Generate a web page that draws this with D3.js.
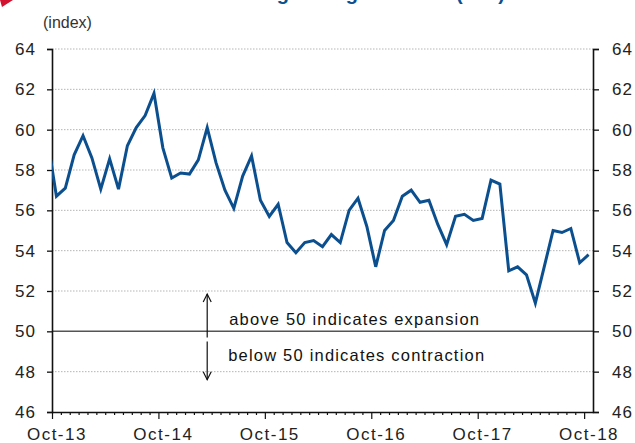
<!DOCTYPE html>
<html>
<head>
<meta charset="utf-8">
<script src="https://cdn.jsdelivr.net/npm/d3@7"></script>
<style>
  body { margin: 0; background: #fff; }
  svg { display: block; }
</style>
</head>
<body>
<div id="chart"></div>
<script>
// data, first value (Sep-13) sits just left of the axis and is clipped
var startMonth = new Date(2013, 8, 1);
var pmi = [59.5, 56.7, 57.1, 58.75, 59.7, 58.6, 57.05, 58.55, 57.05, 59.2, 60.1, 60.7, 61.8,
    59.1, 57.6, 57.85, 57.8, 58.5, 60.1, 58.35, 57.0, 56.1, 57.7, 58.7, 56.5,
    55.7, 56.3, 54.4, 53.9, 54.4, 54.5, 54.2, 54.8, 54.4, 56.0, 56.6, 55.2,
    53.2, 55.0, 55.5, 56.7, 57.0, 56.4, 56.5, 55.3, 54.3, 55.7, 55.8, 55.5,
    55.6, 57.5, 57.3, 53.0, 53.2, 52.8, 51.4, 53.2, 55.0, 54.9, 55.1, 53.4, 53.8];
var xLabels = ["Oct-13", "Oct-14", "Oct-15", "Oct-16", "Oct-17", "Oct-18"];
var yTicks = [46, 48, 50, 52, 54, 56, 58, 60, 62, 64];
var noteAbove = "above 50 indicates expansion";
var noteBelow = "below 50 indicates contraction";

var W = 635, H = 443;
var margin = { top: 49, right: 42, bottom: 31, left: 52 };
var width = W - margin.left - margin.right,
    height = H - margin.top - margin.bottom;

var svg = d3.select("#chart").append("svg")
    .attr("width", W).attr("height", H);

// cropped title strip at the very top (only descenders show)
svg.append("path").attr("d", "M0,0L13,0L2,7Z").attr("fill", "#d2102f");
svg.append("text")
    .attr("x", 505).attr("y", -0.5)
    .attr("text-anchor", "end")
    .style("font-family", "Liberation Sans, Arial, sans-serif")
    .style("font-weight", "bold").style("font-size", "20px")
    .attr("fill", "#0b4f8f")
    .text("Chart 3: Purchasing Managers' Index (PMI)");

svg.append("text")
    .attr("x", 43).attr("y", 28)
    .style("font-family", "Liberation Sans Narrow, Arial Narrow, sans-serif")
    .style("font-size", "16px")
    .attr("fill", "#333")
    .text("(index)");

var g = svg.append("g").attr("transform", "translate(" + margin.left + "," + margin.top + ")");

// month index: 0 = Oct-13 band, points at band centres
var nBands = 61;
var x = d3.scaleLinear().domain([0, nBands]).range([0, width]);
var y = d3.scaleLinear().domain([46, 64]).range([height, 0]);

var data = pmi.map(function (v, i) {
    return { date: d3.timeMonth.offset(startMonth, i), idx: i - 1, value: v };
});

// grid
g.append("g").selectAll("line")
    .data(yTicks.filter(function (d) { return d !== 46 && d !== 50; }))
    .enter().append("line")
    .attr("x1", 0).attr("x2", width)
    .attr("y1", function (d) { return y(d); }).attr("y2", function (d) { return y(d); })
    .attr("stroke", "#b5b5b5").attr("stroke-width", 1)
    .attr("stroke-dasharray", "1.5,1.5");

g.append("line")
    .attr("x1", 0).attr("x2", width)
    .attr("y1", y(50)).attr("y2", y(50))
    .attr("stroke", "#555").attr("stroke-width", 1.5);

// y axes
var fontTicks = "Liberation Sans, Arial, sans-serif";
var yl = g.append("g").call(d3.axisLeft(y).tickValues(yTicks).tickSize(5).tickPadding(11));
var yr = g.append("g").attr("transform", "translate(" + width + ",0)")
    .call(d3.axisRight(y).tickValues(yTicks).tickSize(6).tickPadding(13));
[yl, yr].forEach(function (a) {
    a.select(".domain").attr("stroke", "#111").attr("stroke-width", 1.6);
    a.selectAll(".tick line").attr("stroke", "#111").attr("stroke-width", 1.3);
    a.selectAll("text").style("font-family", fontTicks).style("font-size", "17px")
        .style("letter-spacing", "1px").attr("fill", "#222");
});

// x axis: monthly ticks, longer each October
var xb = g.append("g").attr("transform", "translate(0," + height + ")")
    .call(d3.axisBottom(x).tickValues(d3.range(0, nBands)).tickFormat("").tickSizeOuter(0));
xb.select(".domain").attr("stroke", "#111").attr("stroke-width", 1.6);
xb.selectAll(".tick line")
    .attr("stroke", "#111").attr("stroke-width", 1.2)
    .attr("y2", function (d) { return d % 12 === 0 ? 7 : 3; });

var xl = g.append("g").attr("transform", "translate(0," + height + ")")
    .call(d3.axisBottom(x)
        .tickValues(xLabels.map(function (d, i) { return i * 12 + 0.5; }))
        .tickFormat(function (d, i) { return xLabels[i]; })
        .tickSize(0).tickPadding(16));
xl.select(".domain").remove();
xl.selectAll("text").style("font-family", fontTicks).style("font-size", "17px")
    .style("letter-spacing", "1.5px").attr("fill", "#222");

// line, clipped to the plot area
g.append("clipPath").attr("id", "clip")
    .append("rect").attr("width", width).attr("height", height);

var line = d3.line()
    .x(function (d) { return x(d.idx + 0.5); })
    .y(function (d) { return y(d.value); });

g.append("path").datum(data)
    .attr("clip-path", "url(#clip)")
    .attr("fill", "none")
    .attr("stroke", "#0b4f8f")
    .attr("stroke-width", 3)
    .attr("stroke-linejoin", "miter")
    .attr("d", line);

// annotations
var ax = x(17.5);
function arrow(y0, y1) {
    var dir = y1 < y0 ? 1 : -1;
    g.append("line").attr("x1", ax).attr("x2", ax).attr("y1", y0).attr("y2", y1)
        .attr("stroke", "#111").attr("stroke-width", 1.2);
    g.append("path")
        .attr("d", "M" + (ax - 4) + "," + (y1 + dir * 8) + "L" + ax + "," + y1 + "L" + (ax + 4) + "," + (y1 + dir * 8))
        .attr("fill", "none").attr("stroke", "#111").attr("stroke-width", 1.2);
}
arrow(y(49.7), y(51.85));
arrow(y(49.5), y(47.6));

g.append("text").attr("x", ax + 22).attr("y", y(50.33))
    .style("font-family", fontTicks).style("font-size", "16.5px")
    .style("letter-spacing", "1.2px").attr("fill", "#111")
    .text(noteAbove);
g.append("text").attr("x", ax + 21).attr("y", y(48.55))
    .style("font-family", fontTicks).style("font-size", "16.5px")
    .style("letter-spacing", "1.2px").attr("fill", "#111")
    .text(noteBelow);
</script>
</body>
</html>
